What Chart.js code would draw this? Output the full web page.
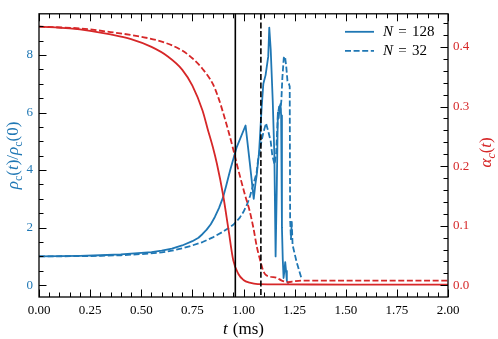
<!DOCTYPE html>
<html><head><meta charset="utf-8">
<script src="https://cdn.jsdelivr.net/npm/chart.js@4.4.1/dist/chart.umd.min.js"></script>
<style>html,body{margin:0;padding:0;background:#fff;}</style>
</head><body>
<canvas id="c" width="498" height="339"></canvas>
<script>
// ---- data ----
const t128   = [0, 0.1, 0.2, 0.3, 0.4, 0.5, 0.55, 0.6, 0.65, 0.7, 0.75, 0.78, 0.8, 0.82, 0.84, 0.86, 0.88, 0.9, 0.915, 0.935, 0.967, 1.01, 1.03, 1.05, 1.058, 1.064, 1.076, 1.089, 1.097, 1.108, 1.116, 1.121, 1.126, 1.133, 1.143, 1.151, 1.157, 1.163, 1.168, 1.172, 1.177, 1.181, 1.184, 1.188, 1.192, 1.196, 1.2, 1.204, 1.208, 1.212, 1.22];
const rho128 = [1.0, 1.01, 1.02, 1.04, 1.07, 1.12, 1.15, 1.2, 1.27, 1.38, 1.53, 1.65, 1.78, 1.93, 2.12, 2.37, 2.68, 3.05, 3.45, 4.0, 4.8, 5.55, 4.3, 3.0, 3.5, 3.8, 4.6, 6.2, 7.0, 7.3, 7.7, 7.95, 8.95, 8.2, 6.4, 4.5, 1.0, 3.5, 6.0, 5.8, 6.2, 6.3, 5.9, 2.0, 0.9, 0.25, 0.5, 0.8, 0.5, 0.15, 0.05];
const t32    = [0, 0.2, 0.3, 0.4, 0.5, 0.6, 0.65, 0.7, 0.74, 0.8, 0.85, 0.9, 0.95, 0.98, 1.0, 1.02, 1.032, 1.048, 1.064, 1.072, 1.085, 1.097, 1.11, 1.121, 1.133, 1.141, 1.152, 1.16, 1.168, 1.174, 1.179, 1.185, 1.19, 1.197, 1.203, 1.209, 1.215, 1.222, 1.226, 1.228, 1.232, 1.236, 1.24, 1.26, 1.285];
const rho32  = [1.0, 1.01, 1.02, 1.04, 1.08, 1.14, 1.2, 1.28, 1.36, 1.5, 1.66, 1.86, 2.1, 2.33, 2.55, 2.85, 3.1, 3.5, 3.9, 4.4, 4.9, 5.3, 5.63, 5.35, 5.0, 4.5, 4.2, 4.6, 5.9, 6.2, 6.0, 6.4, 7.2, 7.9, 7.95, 7.6, 7.1, 7.0, 6.9, 2.3, 1.6, 2.2, 1.4, 0.8, 0.2];
const tA128     = [0, 0.15, 0.25, 0.35, 0.45, 0.55, 0.63, 0.7, 0.75, 0.8, 0.825, 0.85, 0.87, 0.9, 0.926, 0.95, 0.975, 1.0, 1.03, 1.07, 1.2, 1.5, 2.0];
const alpha128  = [0.434, 0.431, 0.427, 0.421, 0.413, 0.400, 0.384, 0.362, 0.335, 0.293, 0.262, 0.232, 0.204, 0.152, 0.095, 0.042, 0.019, 0.009, 0.0045, 0.002, 0.0015, 0.0012, 0.001];
const tA32      = [0, 0.2, 0.35, 0.5, 0.6, 0.7, 0.75, 0.8, 0.85, 0.877, 0.9, 0.926, 0.95, 0.967, 1.007, 1.03, 1.048, 1.065, 1.08, 1.094, 1.105, 1.13, 1.16, 1.187, 1.219, 1.25, 1.29, 1.6, 2.0];
const alpha32   = [0.434, 0.431, 0.425, 0.417, 0.409, 0.394, 0.381, 0.363, 0.338, 0.315, 0.29, 0.259, 0.228, 0.204, 0.152, 0.125, 0.097, 0.065, 0.044, 0.027, 0.019, 0.0145, 0.013, 0.008, 0.0055, 0.007, 0.008, 0.008, 0.008];
const vlineSolid  = 0.96;
const vlineDashed = 1.085;
const xTicks     = [0, 0.25, 0.5, 0.75, 1.0, 1.25, 1.5, 1.75, 2.0];
const rhoTicks   = [0, 2, 4, 6, 8];
const alphaTicks = [0, 0.1, 0.2, 0.3, 0.4];
const xMinorStep = 0.05, rhoMinorStep = 0.5, alphaMinorStep = 0.02;
const legendLabels = ['128', '32'];

// ---- styling ----
const BLUE = '#1f77b4', RED = '#d62728';
const SERIF = "'Liberation Serif', 'DejaVu Serif', serif";
Chart.defaults.font.family = SERIF;
Chart.defaults.font.size = 13;
const DASH = [6, 2.6];

const pts = (ts, ys) => ts.map((t, i) => ({x: t, y: ys[i]}));

function richText(ctx, segs, size, x, y, rot, color, align) {
  ctx.save();
  ctx.translate(x, y); ctx.rotate(rot);
  ctx.fillStyle = color; ctx.textBaseline = 'middle'; ctx.textAlign = 'left';
  const fontOf = s => (s.i ? 'italic ' : '') + Math.round(s.sub ? size * 0.72 : size) + 'px ' + SERIF;
  let w = 0;
  segs.forEach(s => { if (s.gap) { w += s.gap * size; return; } ctx.font = fontOf(s); w += ctx.measureText(s.t).width; });
  let cx = align === 'left' ? 0 : -w / 2;
  segs.forEach(s => {
    if (s.gap) { cx += s.gap * size; return; }
    ctx.font = fontOf(s);
    ctx.fillText(s.t, cx, s.sub ? size * 0.28 : 0);
    cx += ctx.measureText(s.t).width;
  });
  ctx.restore();
  return w;
}

const decor = {
  id: 'decor',
  afterDatasetsDraw(chart) {
    const {ctx, chartArea: ca, scales} = chart;
    const sx = scales.x, sy = scales.y, sy2 = scales.y2;
    ctx.save();
    // vertical markers
    ctx.strokeStyle = '#000';
    ctx.lineWidth = 1.6;
    let px = sx.getPixelForValue(vlineSolid);
    ctx.beginPath(); ctx.moveTo(px, ca.top); ctx.lineTo(px, ca.bottom); ctx.stroke();
    ctx.setLineDash(DASH);
    px = sx.getPixelForValue(vlineDashed);
    ctx.beginPath(); ctx.moveTo(px, ca.top); ctx.lineTo(px, ca.bottom); ctx.stroke();
    ctx.setLineDash([]);
    // ticks (inward)
    ctx.lineWidth = 1;
    const MAJ = 7.5, MIN = 4.5;
    const isMajor = (v, arr) => arr.some(a => Math.abs(a - v) < 1e-9);
    ctx.beginPath();
    for (let k = 0; k * xMinorStep <= sx.max + 1e-9; k++) {
      const v = k * xMinorStep, L = isMajor(v, xTicks) ? MAJ : MIN;
      const p = Math.round(sx.getPixelForValue(v)) + 0.5;
      ctx.moveTo(p, ca.bottom); ctx.lineTo(p, ca.bottom - L);
      ctx.moveTo(p, ca.top); ctx.lineTo(p, ca.top + L);
    }
    for (let k = Math.ceil(sy.min / rhoMinorStep); k * rhoMinorStep <= sy.max; k++) {
      const v = k * rhoMinorStep, L = isMajor(v, rhoTicks) ? MAJ : MIN;
      const p = Math.round(sy.getPixelForValue(v)) + 0.5;
      ctx.moveTo(ca.left, p); ctx.lineTo(ca.left + L, p);
    }
    for (let k = Math.ceil(sy2.min / alphaMinorStep); k * alphaMinorStep <= sy2.max; k++) {
      const v = k * alphaMinorStep, L = isMajor(v, alphaTicks) ? MAJ : MIN;
      const p = Math.round(sy2.getPixelForValue(v)) + 0.5;
      ctx.moveTo(ca.right, p); ctx.lineTo(ca.right - L, p);
    }
    ctx.stroke();
    // frame
    ctx.lineWidth = 1.3;
    ctx.strokeRect(ca.left, ca.top, ca.right - ca.left, ca.bottom - ca.top);
    // legend
    const lx0 = ca.right - 103, lx1 = ca.right - 74;
    const rows = [ca.top + 18, ca.top + 37];
    ctx.strokeStyle = BLUE; ctx.lineWidth = 1.8;
    ctx.beginPath(); ctx.moveTo(lx0, rows[0]); ctx.lineTo(lx1, rows[0]); ctx.stroke();
    ctx.setLineDash(DASH);
    ctx.beginPath(); ctx.moveTo(lx0, rows[1]); ctx.lineTo(lx1, rows[1]); ctx.stroke();
    ctx.setLineDash([]);
    ctx.restore();
    legendLabels.forEach((lab, i) => {
      richText(ctx, [{t: 'N', i: true}, {gap: 0.35}, {t: '='}, {gap: 0.35}, {t: lab}], 15, ca.right - 65, rows[i], 0, '#000', 'left');
    });
    // axis titles
    richText(ctx, [{t: 't', i: true}, {gap: 0.3}, {t: '(ms)'}], 17, (ca.left + ca.right) / 2, ca.bottom + 33, 0, '#000');
    richText(ctx, [{t: 'ρ', i: true}, {t: 'c', sub: true}, {t: '('}, {t: 't', i: true}, {t: ')/'}, {t: 'ρ', i: true}, {t: 'c', sub: true}, {t: '(0)'}],
      17, ca.left - 25, (ca.top + ca.bottom) / 2, -Math.PI / 2, BLUE);
    richText(ctx, [{t: 'α', i: true}, {t: 'c', sub: true, i: true}, {t: '('}, {t: 't', i: true}, {t: ')'}],
      17, ca.right + 39, (ca.top + ca.bottom) / 2 - 3, -Math.PI / 2, RED);
  }
};

new Chart(document.getElementById('c'), {
  type: 'line',
  data: {
    datasets: [
      {label: 'N = 128', data: pts(t128, rho128), yAxisID: 'y', borderColor: BLUE, borderWidth: 1.8, tension: 0, cubicInterpolationMode: 'default', order: 2},
      {label: 'N = 32', data: pts(t32, rho32), yAxisID: 'y', borderColor: BLUE, borderWidth: 1.8, borderDash: DASH, tension: 0, cubicInterpolationMode: 'default', order: 3},
      {label: 'alpha 128', data: pts(tA128, alpha128), yAxisID: 'y2', borderColor: RED, borderWidth: 1.8, cubicInterpolationMode: 'monotone', order: 0},
      {label: 'alpha 32', data: pts(tA32, alpha32), yAxisID: 'y2', borderColor: RED, borderWidth: 1.8, borderDash: DASH, cubicInterpolationMode: 'monotone', order: 1}
    ]
  },
  options: {
    responsive: false, animation: false, devicePixelRatio: 1,
    layout: {padding: {top: 6, left: 0, right: 0, bottom: 0}},
    elements: {point: {radius: 0}, line: {fill: false, borderCapStyle: 'butt', borderJoinStyle: 'round'}},
    plugins: {legend: {display: false}, tooltip: {enabled: false}},
    scales: {
      x: {
        type: 'linear', min: 0, max: 2,
        grid: {display: false, drawTicks: false}, border: {display: false},
        afterBuildTicks: s => { s.ticks = xTicks.map(v => ({value: v})); },
        afterFit: s => { s.height = 42; },
        ticks: {color: '#000', padding: 6, maxRotation: 0, autoSkip: false, callback: v => Number(v).toFixed(2), font: {size: 13}}
      },
      y: {
        type: 'linear', position: 'left', min: -0.41, max: 9.43,
        grid: {display: false, drawTicks: false}, border: {display: false},
        afterBuildTicks: s => { s.ticks = rhoTicks.map(v => ({value: v})); },
        afterFit: s => { s.width = 39; },
        ticks: {color: BLUE, padding: 6, callback: v => String(v), font: {size: 13}}
      },
      y2: {
        type: 'linear', position: 'right', min: -0.0196, max: 0.4556,
        grid: {display: false, drawTicks: false}, border: {display: false},
        afterBuildTicks: s => { s.ticks = alphaTicks.map(v => ({value: v})); },
        afterFit: s => { s.width = 50; },
        ticks: {color: RED, padding: 5, callback: v => Number(v).toFixed(1), font: {size: 13}}
      }
    }
  },
  plugins: [decor]
});
</script>
</body></html>
